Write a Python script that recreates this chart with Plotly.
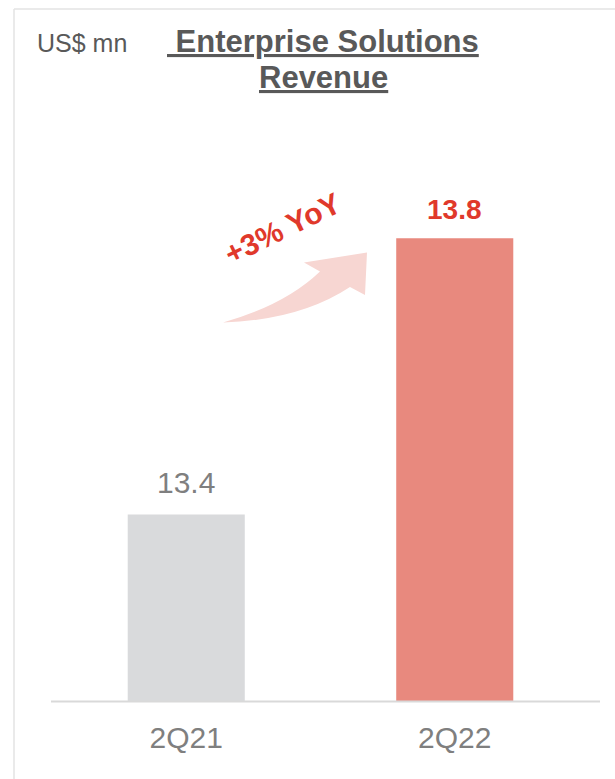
import plotly.graph_objects as go

# Data
categories = ["2Q21", "2Q22"]
revenue = [13.4, 13.8]
bar_colors = ["#D9DADC", "#E8897E"]
yoy_label = "+3% YoY"
unit_label = "US$ mn"
title_lines = ["\u00a0Enterprise Solutions", "Revenue"]

# Canvas / plot geometry (pixels)
W, H = 615, 779
M_L, M_R, M_T, M_B = 52, 26, 100, 78
PW, PH = W - M_L - M_R, H - M_T - M_B
Y_RANGE = [13.13, 14.0]


def px(x):
    """Pixel x -> paper x."""
    return (x - M_L) / PW


def py(y):
    """Pixel y (from top) -> paper y."""
    return (H - M_B - y) / PH


fig = go.Figure()
fig.add_trace(go.Bar(
    x=categories,
    y=revenue,
    marker=dict(color=bar_colors, line=dict(width=0)),
    width=0.436,
    hoverinfo="skip",
))

# Value labels above each bar
label_styles = [
    dict(color="#7F7F7F", size=30, bold=False, shift=13),
    dict(color="#E0392B", size=28, bold=True, shift=11),
]
annotations = []
for cat, val, st in zip(categories, revenue, label_styles):
    txt = f"{val:.1f}"
    if st["bold"]:
        txt = f"<b>{txt}</b>"
    annotations.append(dict(
        x=cat, y=val, xref="x", yref="y", text=txt, showarrow=False,
        yanchor="bottom", yshift=st["shift"],
        font=dict(family="Liberation Sans, Arial", size=st["size"], color=st["color"]),
    ))

# Unit label
annotations.append(dict(
    x=px(35), y=py(43), xref="paper", yref="paper", text=unit_label,
    showarrow=False, xanchor="left", yanchor="middle",
    font=dict(family="Liberation Sans, Arial", size=25, color="#595959"),
))

# Title (bold, underlined, two lines placed separately for tight spacing)
for line, cy in zip(title_lines, [41, 77]):
    annotations.append(dict(
        x=px(323), y=py(cy), xref="paper", yref="paper",
        text=f"<b><u>{line}</u></b>",
        showarrow=False, xanchor="center", yanchor="middle", align="center",
        font=dict(family="Liberation Sans, Arial", size=31, color="#595959"),
    ))

# Growth label along the arrow
annotations.append(dict(
    x=px(282), y=py(228), xref="paper", yref="paper",
    text=f"<b>{yoy_label}</b>", showarrow=False, textangle=-26,
    xanchor="center", yanchor="middle",
    font=dict(family="Liberation Sans, Arial", size=30, color="#E0392B"),
))


def pt(x, y):
    return f"{px(x):.5f},{py(y):.5f}"


# Curved growth arrow
arrow_path = (
    f"M {pt(223, 322.5)} "
    f"Q {pt(300, 320)} {pt(350, 287)} "
    f"L {pt(365, 295)} "
    f"L {pt(367, 252.5)} "
    f"L {pt(304, 262.5)} "
    f"L {pt(320, 271.5)} "
    f"Q {pt(285, 305)} {pt(223, 322.5)} Z"
)

shapes = [
    dict(type="path", path=arrow_path, xref="paper", yref="paper",
         fillcolor="#F7D6D2", line=dict(width=0), layer="below"),
    # baseline
    dict(type="line", xref="paper", yref="paper",
         x0=px(51), x1=px(600), y0=py(701.5), y1=py(701.5),
         line=dict(color="#D9D9D9", width=2)),
    # panel frame: top and left edges
    dict(type="line", xref="paper", yref="paper",
         x0=px(14), x1=px(620), y0=py(9), y1=py(9),
         line=dict(color="#E3E3E3", width=1.5)),
    dict(type="line", xref="paper", yref="paper",
         x0=px(14), x1=px(14), y0=py(9), y1=py(790),
         line=dict(color="#E3E3E3", width=1.5)),
]

fig.update_layout(
    width=W, height=H,
    margin=dict(l=M_L, r=M_R, t=M_T, b=M_B, pad=0),
    paper_bgcolor="white", plot_bgcolor="white",
    showlegend=False,
    bargap=0.564,
    annotations=annotations,
    shapes=shapes,
    xaxis=dict(
        showgrid=False, zeroline=False, showline=False, ticks="",
        tickfont=dict(family="Liberation Sans, Arial", size=30, color="#7F7F7F"),
        ticklabelstandoff=16,
    ),
    yaxis=dict(
        range=Y_RANGE, visible=False, showgrid=False, zeroline=False,
    ),
)

fig.write_html("out.html", config={"displayModeBar": False})
